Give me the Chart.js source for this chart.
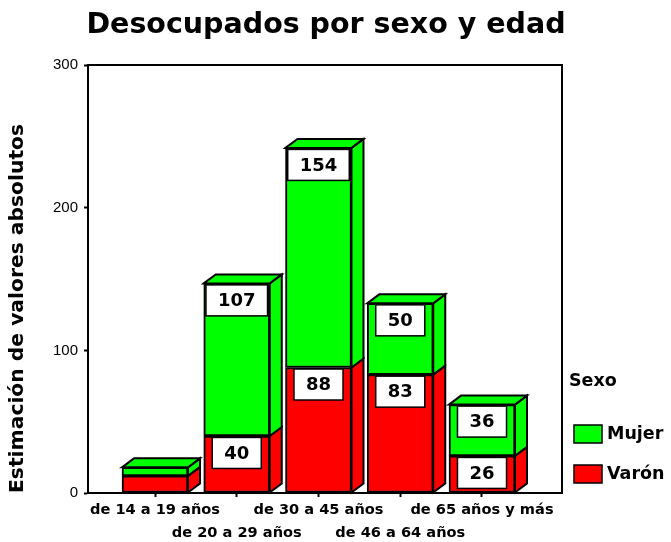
<!DOCTYPE html>
<html>
<head>
<meta charset="utf-8">
<script src="https://cdn.jsdelivr.net/npm/chart.js@4.4.0/dist/chart.umd.min.js"></script>
<style>
  html, body { margin: 0; padding: 0; background: #fff; }
</style>
</head>
<body>
<canvas id="chart" width="671" height="542"></canvas>
<script>
const categories = ['de 14 a 19 años', 'de 20 a 29 años', 'de 30 a 45 años', 'de 46 a 64 años', 'de 65 años y más'];
const varon = [12, 40, 88, 83, 26];
const mujer = [6, 107, 154, 50, 36];
const yTicks = [0, 100, 200, 300];

const RED = '#ff0000';
const GREEN = '#00ff00';
const BOLD = 'DejaVu Sans';
const DX = 12, DY = 9;

// side + top faces and the white value boxes
const bars3d = {
  id: 'bars3d',
  afterDatasetsDraw(chart) {
    const ctx = chart.ctx;
    const metas = chart.data.datasets.map((d, i) => chart.getDatasetMeta(i));
    ctx.save();
    ctx.lineWidth = 2;
    ctx.strokeStyle = '#000';
    categories.forEach((c, i) => {
      metas.forEach((meta, d) => {
        const { x, y, base, width } = meta.data[i].getProps(['x', 'y', 'base', 'width'], true);
        const l = x - width / 2, r = x + width / 2;
        ctx.fillStyle = chart.data.datasets[d].backgroundColor;
        ctx.beginPath();
        ctx.moveTo(r, base);
        ctx.lineTo(r + DX, base - DY);
        ctx.lineTo(r + DX, y - DY);
        ctx.lineTo(r, y);
        ctx.closePath();
        ctx.fill();
        ctx.stroke();
        if (d === metas.length - 1) {
          ctx.beginPath();
          ctx.moveTo(l, y);
          ctx.lineTo(l + DX, y - DY);
          ctx.lineTo(r + DX, y - DY);
          ctx.lineTo(r, y);
          ctx.closePath();
          ctx.fill();
          ctx.stroke();
        }
      });
    });

    ctx.font = 'bold 18px "DejaVu Sans"';
    ctx.textAlign = 'center';
    ctx.textBaseline = 'middle';
    metas.forEach((meta, d) => {
      const values = chart.data.datasets[d].data;
      meta.data.forEach((bar, i) => {
        const { x, y, base } = bar.getProps(['x', 'y', 'base'], true);
        if (base - y < 34) return;
        const txt = String(values[i].y);
        const w = ctx.measureText(txt).width + 24;
        const top = y + 1.5;
        ctx.fillStyle = '#fff';
        ctx.fillRect(x - w / 2, top, w, 31);
        ctx.lineWidth = 1.5;
        ctx.strokeRect(x - w / 2, top, w, 31);
        ctx.fillStyle = '#000';
        ctx.fillText(txt, x, top + 16.5);
      });
    });
    ctx.restore();
  }
};

const legendBox = {
  id: 'legendBox',
  afterDraw(chart) {
    const ctx = chart.ctx;
    const a = chart.chartArea;
    const x0 = a.right + 7;
    ctx.save();
    ctx.fillStyle = '#000';
    ctx.textAlign = 'left';
    ctx.textBaseline = 'middle';
    ctx.font = 'bold 17.5px "DejaVu Sans"';
    ctx.fillText('Sexo', x0, a.bottom - 112);
    const items = [1, 0];
    items.forEach((d, k) => {
      const ds = chart.data.datasets[d];
      const top = a.bottom - 68 + k * 40;
      ctx.fillStyle = ds.backgroundColor;
      ctx.fillRect(x0 + 5, top, 28, 18);
      ctx.lineWidth = 1.5;
      ctx.strokeStyle = '#000';
      ctx.strokeRect(x0 + 5, top, 28, 18);
      ctx.fillStyle = '#000';
      ctx.fillText(ds.label, x0 + 38, top + 9.5);
    });
    ctx.restore();
  }
};

const frame = { color: '#000', width: 2 };

new Chart(document.getElementById('chart'), {
  type: 'bar',
  data: {
    datasets: [
      { label: 'Varón', data: varon.map((v, i) => ({ x: i, y: v })), backgroundColor: RED },
      { label: 'Mujer', data: mujer.map((v, i) => ({ x: i, y: v })), backgroundColor: GREEN }
    ]
  },
  options: {
    responsive: false,
    animation: false,
    layout: { padding: { right: 19 } },
    datasets: {
      bar: { barThickness: 66, borderColor: '#000', borderWidth: 2, borderSkipped: false }
    },
    plugins: {
      legend: { display: false },
      tooltip: { enabled: false },
      title: {
        display: true,
        text: 'Desocupados por sexo y edad',
        color: '#000',
        font: { family: BOLD, size: 28.5, weight: 'bold' },
        padding: { top: 8, bottom: 23 }
      }
    },
    scales: {
      x: {
        type: 'linear',
        stacked: true,
        min: -0.8196,
        max: 4.9786,
        offset: false,
        afterBuildTicks: s => { s.ticks = categories.map((c, i) => ({ value: i })); },
        afterFit: s => { s.height = 49; },
        grid: { display: true, offset: false, drawOnChartArea: false, tickLength: 4, tickWidth: 2, tickColor: '#000' },
        border: frame,
        ticks: {
          autoSkip: false,
          maxRotation: 0,
          minRotation: 0,
          padding: 2,
          color: '#000',
          font: { family: BOLD, size: 14.6, weight: 'bold', lineHeight: 1.57 },
          callback: v => (v % 2 ? ['', categories[v]] : [categories[v], ''])
        }
      },
      x2: {
        type: 'linear',
        position: 'top',
        grid: { display: false },
        ticks: { display: false },
        border: frame,
        afterFit: s => { s.height = 0; }
      },
      y: {
        stacked: true,
        min: 0,
        max: 300,
        afterBuildTicks: s => { s.ticks = yTicks.map(v => ({ value: v })); },
        afterFit: s => { s.width = 88; },
        grid: { drawOnChartArea: false, tickLength: 4, tickWidth: 2, tickColor: '#000' },
        border: frame,
        ticks: { padding: 6, color: '#000', font: { family: 'Liberation Sans', size: 15 } },
        title: {
          display: true,
          text: 'Estimación de valores absolutos',
          align: 'start',
          color: '#000',
          font: { family: BOLD, size: 20.3, weight: 'bold' },
          padding: { top: 6, bottom: 0 }
        }
      },
      y2: {
        type: 'linear',
        position: 'right',
        grid: { display: false },
        ticks: { display: false },
        border: frame,
        afterFit: s => { s.width = 90; }
      }
    }
  },
  plugins: [bars3d, legendBox]
});
</script>
</body>
</html>
